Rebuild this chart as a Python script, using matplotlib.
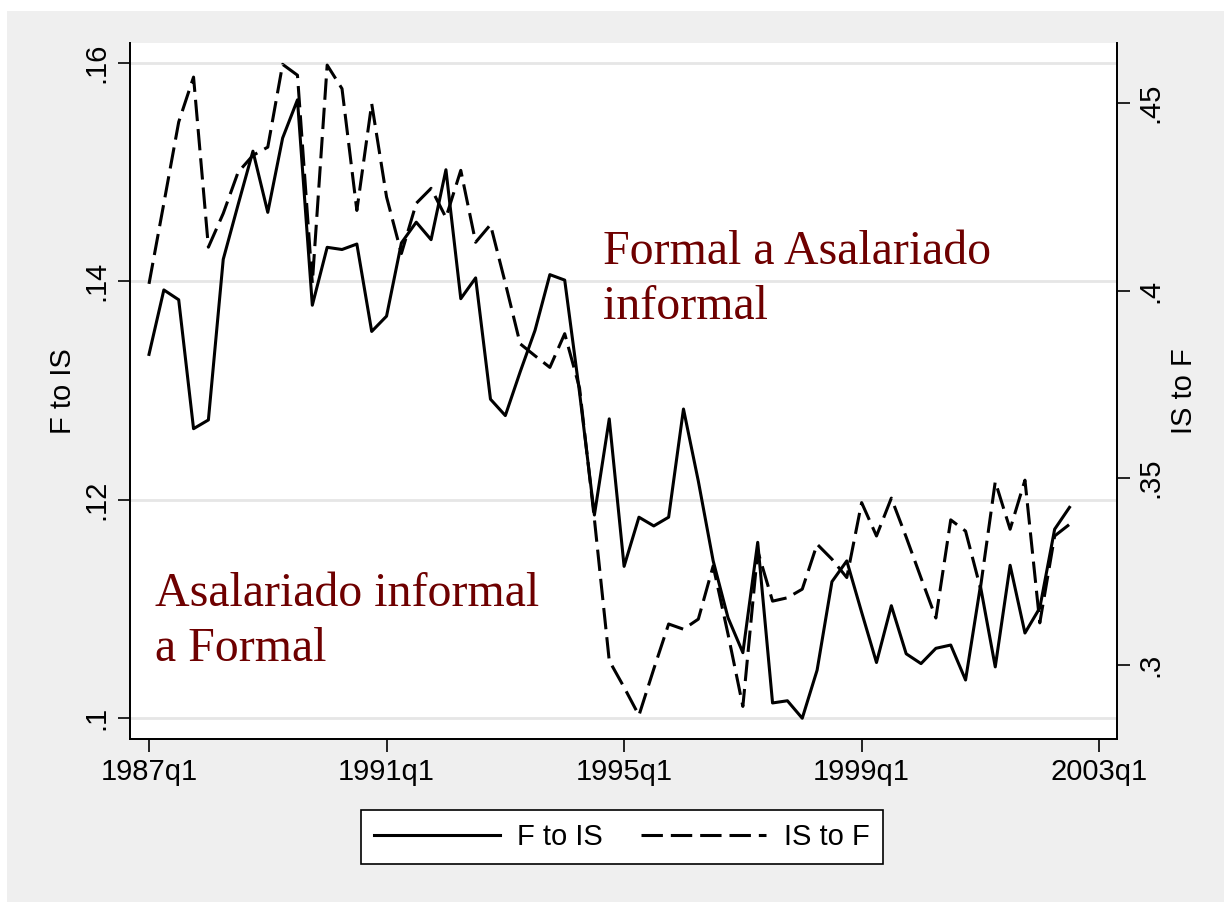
import matplotlib
matplotlib.use("Agg")
import matplotlib.pyplot as plt
from matplotlib.patches import Rectangle
from matplotlib.ticker import FixedLocator, FixedFormatter

# quarterly series, 1987q1 .. 2002q3
f_to_is = [.1333, .1392, .1383, .1265, .1273, .1420, .1470, .1519, .1463, .1531,
           .1566, .1378, .1431, .1429, .1434, .1354, .1368, .1435, .1454, .1438,
           .1502, .1384, .1403, .1292, .1277, .1317, .1355, .1406, .1401, .1298,
           .1186, .1274, .1139, .1184, .1176, .1184, .1283, .1217, .1144, .1092,
           .1060, .1161, .1014, .1016, .1000, .1044, .1125, .1144, .1097, .1051,
           .1103, .1059, .1050, .1064, .1067, .1035, .1121, .1047, .1140, .1078,
           .1101, .1173, .1193]
is_to_f = [.4018, .4233, .4450, .4570, .4116, .4206, .4316, .4361, .4383, .4604,
           .4575, .4020, .4602, .4539, .4214, .4499, .4250, .4099, .4233, .4273,
           .4195, .4321, .4129, .4176, .4020, .3858, .3826, .3795, .3885, .3740,
           .3390, .3012, .2941, .2866, .2990, .3110, .3096, .3123, .3265, .3083,
           .2890, .3305, .3171, .3180, .3203, .3323, .3283, .3234, .3434, .3345,
           .3446, .3342, .3233, .3126, .3388, .3358, .3206, .3490, .3363, .3494,
           .3113, .3345, .3376]
quarters = list(range(len(f_to_is)))  # 0 = 1987q1

xtick_pos = [0, 16, 32, 48, 64]
xtick_labels = ["1987q1", "1991q1", "1995q1", "1999q1", "2003q1"]
left_ticks = [.10, .12, .14, .16]
left_labels = [".1", ".12", ".14", ".16"]
right_ticks = [.30, .35, .40, .45]
right_labels = [".3", ".35", ".4", ".45"]

plt.rcParams['font.family'] = ['Liberation Sans', 'DejaVu Sans']
FS = 21
fig = plt.figure(figsize=(12.24, 9.02), dpi=100, facecolor='white')
fig.patches.append(Rectangle((7/1224, 0), 1, (902-11)/902, transform=fig.transFigure,
                             facecolor='#efefef', edgecolor='none', zorder=-10))

ax = fig.add_axes([130/1224, (902-739)/902, 987/1224, 696/902])
ax.set_facecolor('white')
ax2 = ax.twinx()

ax.plot(quarters, f_to_is, color='black', lw=2.2, label='F to IS', zorder=3)
ax2.plot(quarters, is_to_f, color='black', lw=2.2, dashes=(7, 2.6), label='IS to F', zorder=3)

ax.set_xlim(-1.28, 65.2)
ax.set_ylim(.0981, .1618)
ax2.set_ylim(.2803, .4661)

ax.xaxis.set_major_locator(FixedLocator(xtick_pos))
ax.xaxis.set_major_formatter(FixedFormatter(xtick_labels))
ax.yaxis.set_major_locator(FixedLocator(left_ticks))
ax.yaxis.set_major_formatter(FixedFormatter(left_labels))
ax2.yaxis.set_major_locator(FixedLocator(right_ticks))
ax2.yaxis.set_major_formatter(FixedFormatter(right_labels))

ax.grid(axis='y', color='#e6e6e6', lw=2)
ax.set_axisbelow(True)

for a in (ax, ax2):
    a.spines['top'].set_visible(False)
    for s in ('left', 'right', 'bottom'):
        a.spines[s].set_linewidth(1.3)
    a.tick_params(length=9, width=1.2, labelsize=FS, pad=5)
ax.tick_params(axis='y', labelrotation=90)
ax2.tick_params(axis='y', labelrotation=90)
for lab in ax.get_yticklabels() + ax2.get_yticklabels():
    lab.set_verticalalignment('center')

ax.set_ylabel('F to IS', fontsize=FS, labelpad=4)
ax2.set_ylabel('IS to F', fontsize=FS, labelpad=4, rotation=90)

txt_color = '#6e0000'
ax.text(0.479, 0.731, 'Formal a Asalariado\ninformal', transform=ax.transAxes,
        family='Liberation Serif', fontsize=34.5, color=txt_color, va='top', ha='left',
        linespacing=1.32)
ax.text(0.025, 0.24, 'Asalariado informal\na Formal', transform=ax.transAxes,
        family='Liberation Serif', fontsize=34.5, color=txt_color, va='top', ha='left',
        linespacing=1.32)

h1, l1 = ax.get_legend_handles_labels()
h2, l2 = ax2.get_legend_handles_labels()
leg = fig.legend(h1 + h2, l1 + l2, loc='center', bbox_to_anchor=(622/1224, (902-837)/902),
                 ncol=2, fontsize=FS, frameon=True, fancybox=False, framealpha=1,
                 edgecolor='black', handlelength=4.3, handletextpad=0.6,
                 columnspacing=1.3, borderpad=0.45)
leg.get_frame().set_linewidth(1.2)

fig.savefig('out.png', dpi=100, facecolor=fig.get_facecolor())
